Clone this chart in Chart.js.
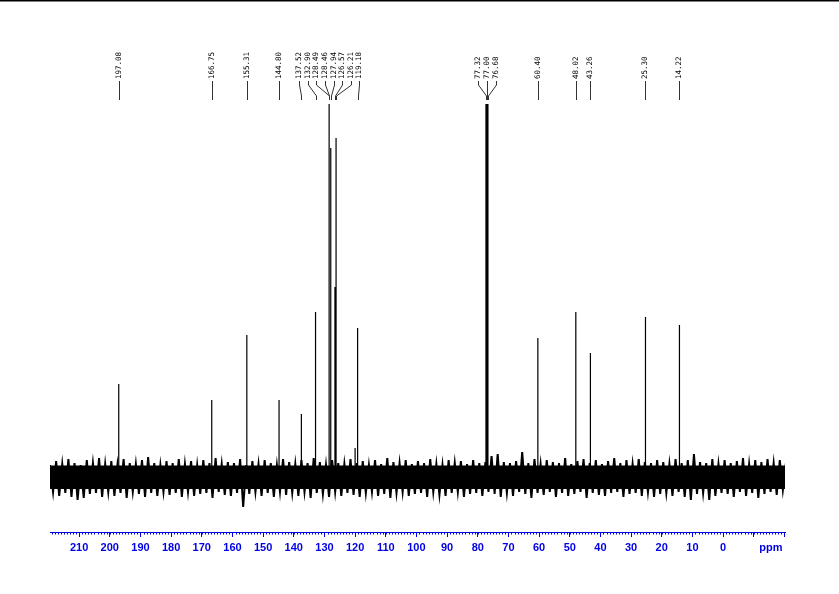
<!DOCTYPE html>
<html>
<head>
<meta charset="utf-8">
<script src="https://cdn.jsdelivr.net/npm/chart.js@4/dist/chart.umd.min.js"></script>
<style>
  html, body { margin:0; padding:0; background:#fff; }
  canvas { display:block; }
</style>
</head>
<body>
<canvas id="nmr" width="839" height="594"></canvas>
<script>
// 13C spectrum - labelled peaks (ppm) and their heights (arbitrary units)
const peakPpm    = [197.08, 166.75, 155.31, 144.80, 137.52, 132.90, 128.49, 128.46, 127.94, 126.57, 126.21, 119.18, 77.32, 77.00, 76.68, 60.40, 48.02, 43.26, 25.30, 14.22];
const peakHeight = [94, 78, 143, 78, 64, 166, 374, 350, 330, 191, 340, 150, 374, 374, 374, 140, 166, 125, 161, 153];

// small unlabelled bump
const minorPpm    = [120.0];
const minorHeight = [30];

// baseline noise: solid core, plus the tips of the noise read every 2 ppm
// (upper tips from 219.5 ppm, lower tips from 218.5 ppm, going down)
const noiseCore = [12, -11];
const noiseStart = 219.5;
const noiseStep = 2;
const noiseUpper = [
  13,17,14,19,15,13,18,15,20,14, 17,13,19,15,14,18,21,15,13,17,
  15,19,14,17,13,18,15,20,14,16, 15,19,13,17,14,18,15,13,19,16,
  14,18,15,20,16,13,18,15,14,19, 15,17,13,18,14,20,16,15,18,14,
  17,15,19,14,13,18,15,17,14,18, 15,16,22,24,16,15,17,26,15,19,
  14,18,16,15,20,14,17,19,15,18, 14,17,20,15,18,14,19,16,15,18,
  16,14,19,15,18,24,16,15,19,14, 18,15,17,20,14,18,16,19,15,18,15
];
const noiseLower = [
  -14,-18,-15,-19,-22,-20,-16,-15,-19,-14, -18,-15,-20,-14,-16,-19,-15,-18,-14,-17,
  -15,-19,-14,-18,-16,-15,-20,-14,-17,-18, -15,-29,-16,-14,-18,-15,-19,-14,-17,-15,
  -18,-14,-20,-15,-16,-19,-14,-18,-15,-17, -19,-15,-14,-18,-16,-20,-15,-14,-18,-16,
  -15,-19,-14,-17,-18,-15,-14,-19,-16,-15, -18,-14,-16,-19,-15,-18,-14,-16,-20,-15,
  -17,-14,-19,-15,-18,-16,-14,-20,-15,-17, -18,-15,-14,-19,-16,-15,-18,-14,-19,-16,
  -15,-18,-14,-19,-22,-16,-15,-22,-18,-15, -16,-19,-14,-18,-15,-20,-16,-14,-17,-12,-9
];

// axis
const majorTicks = [-20,-10,0,10,20,30,40,50,60,70,80,90,100,110,120,130,140,150,160,170,180,190,200,210];
const tickLabels = [0,10,20,30,40,50,60,70,80,90,100,110,120,130,140,150,160,170,180,190,200,210];
const xMin = -20.2, xMax = 219.5;

const AXIS_BLUE = '#0000e6';

const noiseTrace = [];
noiseUpper.forEach((v,i)=>{
  const x = noiseStart - i*noiseStep;
  noiseTrace.push({ x: x, y: v });
  if (i < noiseLower.length) noiseTrace.push({ x: x - 1, y: noiseLower[i] });
});
const coreLine = [{ x: xMax, y: noiseCore[0] }, { x: xMin, y: noiseCore[0] }];

let allPeaks = peakPpm.map((p,i)=>[p, peakHeight[i]]).concat(minorPpm.map((p,i)=>[p, minorHeight[i]]));
allPeaks.sort((a,b)=> b[0]-a[0]);
const peakLine = [];
allPeaks.forEach(([p,h])=>{ peakLine.push({x:p,y:0},{x:p,y:h},{x:p,y:0}); });

// labels above the peaks, spread out where crowded
const labelPlugin = {
  id: 'peakLabels',
  afterDraw(chart) {
    const ctx = chart.ctx, xs = chart.scales.x;
    const px = peakPpm.map(p => xs.getPixelForValue(p));
    const lx = px.slice();
    const GAP = 8.6;
    for (let it=0; it<300; it++) {
      for (let i=1;i<lx.length;i++) {
        const d = lx[i]-lx[i-1];
        if (d < GAP) { const s=(GAP-d)/2; lx[i-1]-=s; lx[i]+=s; }
      }
    }
    ctx.save();
    ctx.strokeStyle = '#333';
    ctx.lineWidth = 1;
    px.forEach((x,i)=>{
      const a = Math.round(lx[i])+0.5, b = Math.round(x)+0.5;
      ctx.beginPath();
      ctx.moveTo(a, 81); ctx.lineTo(a, 85); ctx.lineTo(b, 96); ctx.lineTo(b, 100);
      ctx.stroke();
    });
    ctx.fillStyle = '#000';
    ctx.font = '7.5px "DejaVu Sans Mono"';
    ctx.textAlign = 'left';
    ctx.textBaseline = 'middle';
    peakPpm.forEach((p,i)=>{
      ctx.save();
      ctx.translate(Math.round(lx[i])+0.5, 79);
      ctx.rotate(-Math.PI/2);
      ctx.fillText(p.toFixed(2), 0, 0);
      ctx.restore();
    });

    // minor ticks every 1 ppm
    const y0 = chart.chartArea.bottom;
    ctx.strokeStyle = AXIS_BLUE;
    ctx.beginPath();
    for (let v=-20; v<=219; v++) {
      const x = Math.round(xs.getPixelForValue(v))+0.5;
      ctx.moveTo(x, y0); ctx.lineTo(x, y0+2.5);
    }
    ctx.stroke();

    // unit label
    ctx.fillStyle = AXIS_BLUE;
    ctx.font = 'bold 11px "Liberation Sans"';
    ctx.textAlign = 'center';
    ctx.textBaseline = 'middle';
    ctx.fillText('ppm', xs.getPixelForValue(-15.6), 548);

    // top frame line
    ctx.fillStyle = '#000';
    ctx.fillRect(0, 0, chart.width, 1.5);
    ctx.restore();
  }
};

new Chart(document.getElementById('nmr'), {
  type: 'line',
  data: {
    datasets: [
      { data: coreLine, borderColor:'#000', backgroundColor:'#000', borderWidth:1, fill:{ value: noiseCore[1] }, pointRadius:0 },
      { data: noiseTrace, borderColor:'#000', borderWidth:2, fill:false, pointRadius:0 },
      { data: peakLine, borderColor:'#000', borderWidth:1.2, fill:false, pointRadius:0 }
    ]
  },
  options: {
    responsive: false,
    animation: false,
    layout: { padding: { left: 50, right: 54, top: 104, bottom: 32 } },
    plugins: { legend: { display:false }, tooltip: { enabled:false } },
    scales: {
      x: {
        type: 'linear', reverse: true, min: xMin, max: xMax,
        afterBuildTicks: s => { s.ticks = majorTicks.map(v=>({value:v})); },
        afterFit: s => { s.height = 30; },
        border: { display:true, color: AXIS_BLUE, width: 1 },
        grid: { drawOnChartArea:false, drawTicks:true, tickLength:5, color: AXIS_BLUE },
        ticks: {
          autoSkip:false, maxRotation:0, padding:4, color: AXIS_BLUE,
          font: { family:'"Liberation Sans"', size:11, weight:'bold' },
          callback: v => tickLabels.includes(v) ? String(v) : ''
        }
      },
      y: { display:false, min:-54, max:374 }
    }
  },
  plugins: [labelPlugin]
});
</script>
</body>
</html>
